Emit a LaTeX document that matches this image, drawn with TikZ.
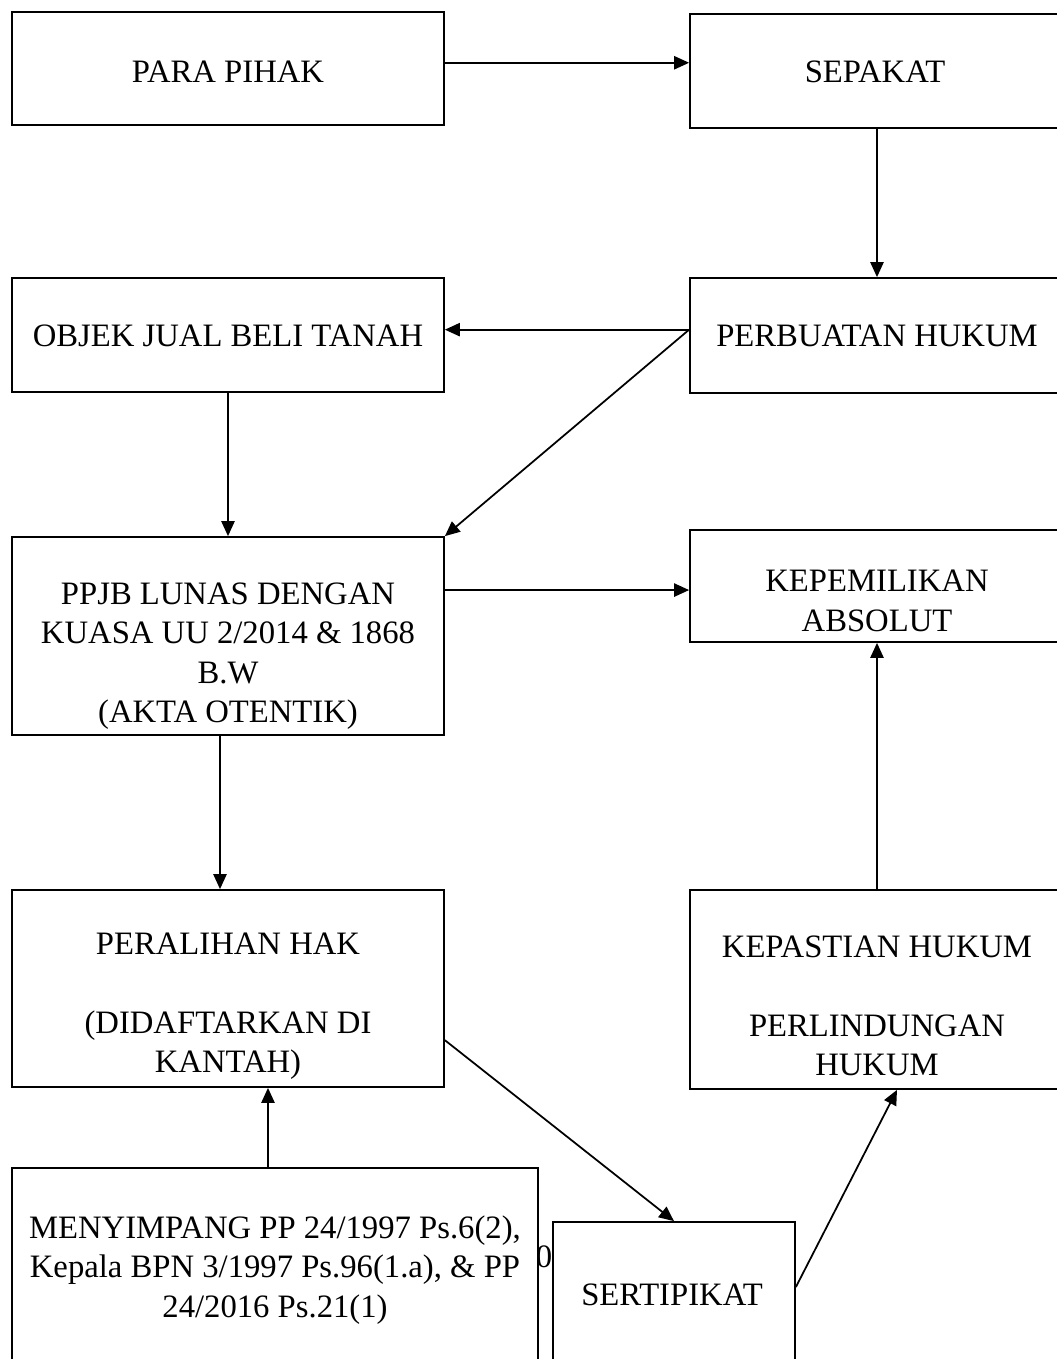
\documentclass[tikz,border=0pt]{standalone}
\usepackage{fontspec}
\setmainfont{Liberation Serif}
\usetikzlibrary{calc, positioning}
\usetikzlibrary{arrows.meta}

\begin{document}
\begin{tikzpicture}[x=0.02cm,y=-0.02cm,
  box/.style={draw, fill=white, line width=1pt, inner sep=0pt},
  txt/.style={align=center, inner sep=0pt, font=\fontsize{18.6}{22.5}\selectfont},
  arr/.style={line width=1pt, -{Triangle[length=8.5pt, width=7.5pt]}}]
\def\pxu{0.02cm}

\useasboundingbox (0,0) rectangle (1057,1359);

% stray digit, half hidden behind the box
\node[txt] (zero) at (544,1257) {0};

% boxes
\node[box, minimum width=432*\pxu, minimum height=113*\pxu] (para) at (228,68.5) {};
\node[box, minimum width=374*\pxu, minimum height=114*\pxu] (sepakat) at (877,71) {};
\node[box, minimum width=432*\pxu, minimum height=114*\pxu] (objek) at (228,335) {};
\node[box, minimum width=374*\pxu, minimum height=115*\pxu] (perbuatan) at (877,335.5) {};
\node[box, minimum width=432*\pxu, minimum height=198*\pxu] (ppjb) at (228,636) {};
\node[box, minimum width=374*\pxu, minimum height=112*\pxu] (kepemilikan) at (877,586) {};
\node[box, minimum width=432*\pxu, minimum height=197*\pxu] (peralihan) at (228,988.5) {};
\node[box, minimum width=374*\pxu, minimum height=199*\pxu] (kepastian) at (877,989.5) {};
\node[box, minimum width=526*\pxu, minimum height=204*\pxu] (menyimpang) at (275,1270) {};
\node[box, minimum width=242*\pxu, minimum height=146*\pxu] (sertipikat) at (674,1295) {};

% texts
\node[txt] (para-t) at (228,72) {PARA PIHAK};
\node[txt] (sepakat-t) at (875,72) {SEPAKAT};
\node[txt] (objek-t) at (228,336) {OBJEK JUAL BELI TANAH};
\node[txt] (perbuatan-t) at (877,336) {PERBUATAN HUKUM};
\node[txt] (ppjb-t) at (228,656) {PPJB LUNAS DENGAN\\KUASA UU 2/2014 \& 1868\\B.W\\(AKTA OTENTIK)};
\node[txt] (kepemilikan-t) at (877,601) {KEPEMILIKAN\\ABSOLUT};
\node[txt] (peralihan-t) at (228,1006) {PERALIHAN HAK\\[22.5pt](DIDAFTARKAN DI\\KANTAH)};
\node[txt] (kepastian-t) at (877,1006) {KEPASTIAN HUKUM\\[22.5pt]PERLINDUNGAN\\HUKUM};
\node[txt] (menyimpang-t) at (275,1270) {MENYIMPANG PP 24/1997 Ps.6(2),\\Kepala BPN 3/1997 Ps.96(1.a), \& PP\\24/2016 Ps.21(1)};
\node[txt] (sertipikat-t) at (672,1295) {SERTIPIKAT};

% arrows
\coordinate (p1) at ($(para.north east)!0.45!(para.south east)$);
\draw[arr] (p1) -- (p1 -| sepakat.west);
\draw[arr] (sepakat.south) -- (perbuatan.north);
\coordinate (p2) at ($(perbuatan.north west)!0.45!(perbuatan.south west)$);
\draw[arr] (p2) -- (p2 -| objek.east);
\draw[arr] (p2) -- (ppjb.north east);
\draw[arr] (objek.south) -- (ppjb.north);
\coordinate (p3) at ($(ppjb.north east)!0.27!(ppjb.south east)$);
\draw[arr] (p3) -- (p3 -| kepemilikan.west);
\coordinate (p4) at ($(ppjb.south)+(-8,0)$);
\draw[arr] (p4) -- (p4 |- peralihan.north);
\draw[arr] (kepastian.north) -- (kepemilikan.south);
\coordinate (p5) at ($(peralihan.north east)!0.76!(peralihan.south east)$);
\draw[arr] (p5) -- (sertipikat.north);
\coordinate (p6) at ($(menyimpang.north)+(-7,0)$);
\draw[arr] (p6) -- (p6 |- peralihan.south);
\coordinate (p7) at ($(sertipikat.east)+(0,-8)$);
\coordinate (p8) at ($(kepastian.south)+(20,0)$);
\draw[arr] (p7) -- (p8);
\end{tikzpicture}
\end{document}
